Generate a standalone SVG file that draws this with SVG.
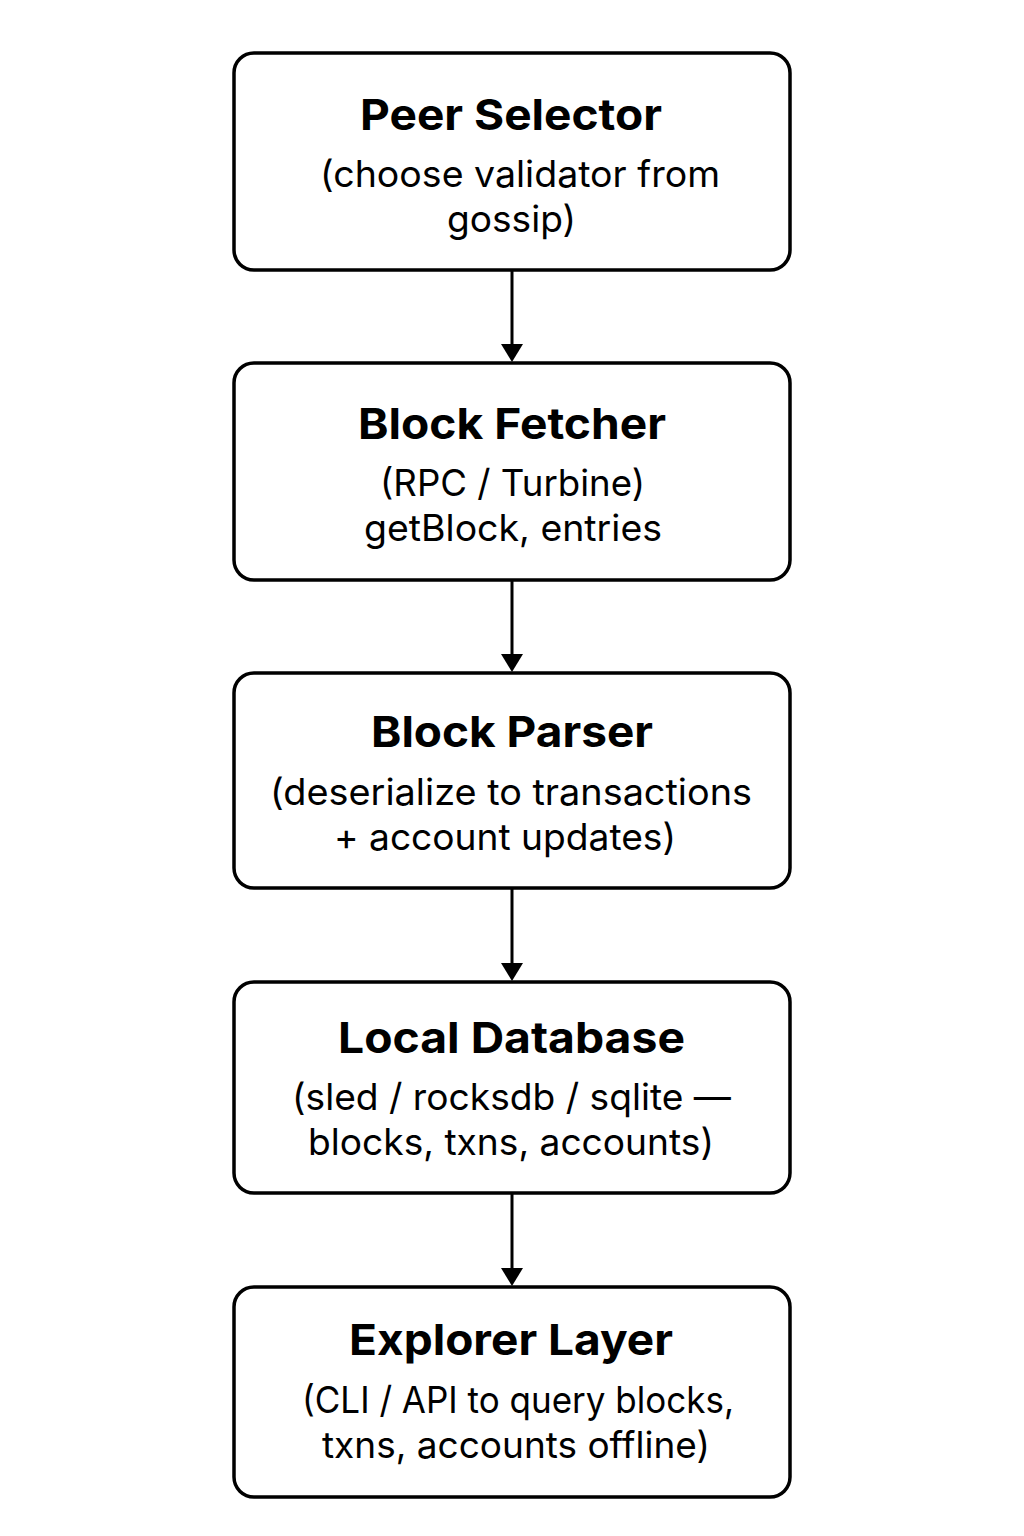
<svg xmlns="http://www.w3.org/2000/svg" width="1024" height="1536" viewBox="0 0 1024 1536">
<defs>
<style>
.box{fill:#fff;stroke:#000;stroke-width:3.5}
.t{font-family:Inter,"Noto Sans","Liberation Sans",sans-serif;font-weight:700;font-size:43px;text-anchor:middle;fill:#000}
.b{font-family:Inter,"Noto Sans","Liberation Sans",sans-serif;font-weight:400;font-size:37px;text-anchor:middle;fill:#000}
.c{stroke:#000;stroke-width:3;fill:none}
.ah{fill:#000}
</style>
</defs>
<rect width="1024" height="1536" fill="#fff"/>
<g id="connectors">
<path class="c" d="M512,271 V346"/>
<path class="ah" d="M501,344 L523,344 L512,362 Z"/>
<path class="c" d="M512,581 V656"/>
<path class="ah" d="M501,654 L523,654 L512,672 Z"/>
<path class="c" d="M512,889 V964"/>
<path class="ah" d="M501,963 L523,963 L512,981 Z"/>
<path class="c" d="M512,1194 V1269"/>
<path class="ah" d="M501,1268 L523,1268 L512,1286 Z"/>
</g>
<g id="peer-selector">
<rect class="box" x="234" y="53" width="556" height="217" rx="20"/>
<text class="t" x="511" y="130" textLength="302" lengthAdjust="spacingAndGlyphs">Peer Selector</text>
<text class="b" x="520" y="187" textLength="400" lengthAdjust="spacingAndGlyphs">(choose validator from</text>
<text class="b" x="511.5" y="232" textLength="129" lengthAdjust="spacingAndGlyphs">gossip)</text>
</g>
<g id="block-fetcher">
<rect class="box" x="234" y="363" width="556" height="217" rx="20"/>
<text class="t" x="512" y="439" textLength="308" lengthAdjust="spacingAndGlyphs">Block Fetcher</text>
<text class="b" x="512.5" y="496" textLength="265" lengthAdjust="spacingAndGlyphs">(RPC / Turbine)</text>
<text class="b" x="513" y="541" textLength="298" lengthAdjust="spacingAndGlyphs">getBlock, entries</text>
</g>
<g id="block-parser">
<rect class="box" x="234" y="673" width="556" height="215" rx="20"/>
<text class="t" x="512" y="747" textLength="282" lengthAdjust="spacingAndGlyphs">Block Parser</text>
<text class="b" x="511" y="805" textLength="482" lengthAdjust="spacingAndGlyphs">(deserialize to transactions</text>
<text class="b" x="505" y="850" textLength="342" lengthAdjust="spacingAndGlyphs">+ account updates)</text>
</g>
<g id="local-database">
<rect class="box" x="234" y="982" width="556" height="211" rx="20"/>
<text class="t" x="511.5" y="1053" textLength="347" lengthAdjust="spacingAndGlyphs">Local Database</text>
<text class="b" x="511.5" y="1110" textLength="439" lengthAdjust="spacingAndGlyphs">(sled / rocksdb / sqlite —</text>
<text class="b" x="511" y="1155" textLength="406" lengthAdjust="spacingAndGlyphs">blocks, txns, accounts)</text>
</g>
<g id="explorer-layer">
<rect class="box" x="234" y="1287" width="556" height="210" rx="20"/>
<text class="t" x="511" y="1355" textLength="324" lengthAdjust="spacingAndGlyphs">Explorer Layer</text>
<text class="b" x="518" y="1413" textLength="432" lengthAdjust="spacingAndGlyphs">(CLI / API to query blocks,</text>
<text class="b" x="516" y="1458" textLength="388" lengthAdjust="spacingAndGlyphs">txns, accounts offline)</text>
</g>
</svg>
